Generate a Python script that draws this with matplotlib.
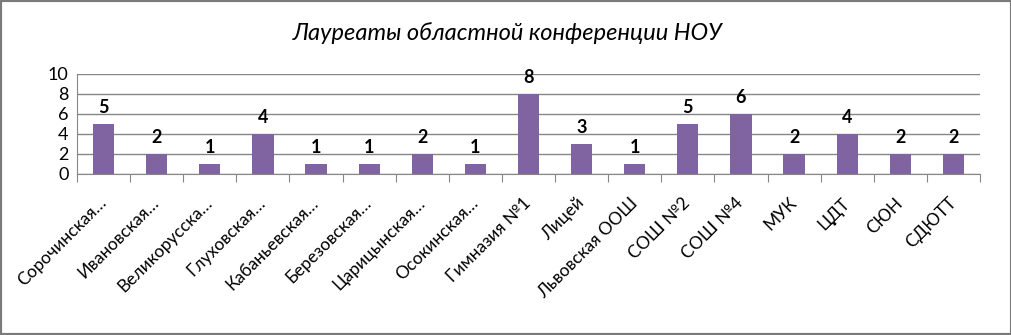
import matplotlib
matplotlib.use("Agg")
import matplotlib.pyplot as plt
from matplotlib.patches import Rectangle

plt.rcParams['font.family'] = ['Lato', 'DejaVu Sans']

categories = ["Сорочинская…", "Ивановская…", "Великорусска…", "Глуховская…",
              "Кабаньевская…", "Березовская…", "Царицынская…", "Осокинская…",
              "Гимназия №1", "Лицей", "Львовская ООШ", "СОШ №2", "СОШ №4",
              "МУК", "ЦДТ", "СЮН", "СДЮТТ"]
values = [5, 2, 1, 4, 1, 1, 2, 1, 8, 3, 1, 5, 6, 2, 4, 2, 2]
title = "Лауреаты областной конференции НОУ"

W, H = 1012, 335
fig = plt.figure(figsize=(W / 100, H / 100), dpi=100)
ax = fig.add_axes([77 / W, (H - 174) / H, (980 - 77) / W, 100 / H])

x = range(len(categories))
bars = ax.bar(x, values, width=0.4, color="#8064A2", zorder=3)
for xi, v in zip(x, values):
    ax.annotate(str(v), (xi, v), xytext=(0, 6), textcoords="offset points",
                ha="center", va="bottom", fontsize=13, fontweight="bold")

ax.set_xlim(-0.5, len(categories) - 0.5)
ax.set_ylim(0, 10)
ax.set_yticks([0, 2, 4, 6, 8, 10])
ax.yaxis.grid(True, color="#868686", linewidth=1, zorder=0)
ax.tick_params(axis="y", length=0, labelsize=13, pad=6)

ax.set_xticks([i - 0.5 for i in range(len(categories) + 1)], minor=False)
ax.set_xticklabels([])
ax.tick_params(axis="x", which="major", length=6, color="#868686", direction="out")
ax.set_xticks(list(x), minor=True)
ax.set_xticklabels(categories, minor=True, rotation=45, ha="right", va="center",
                   rotation_mode="anchor", fontsize=12.5)
ax.tick_params(axis="x", which="minor", length=0, pad=19)

for s in ["top", "right"]:
    ax.spines[s].set_visible(False)
for s in ["left", "bottom"]:
    ax.spines[s].set_color("#868686")

fig.text(508 / W, 1 - 33 / H, title, ha="center", va="center",
         fontsize=17, fontstyle="italic")

fig.patches.append(Rectangle((0, 0), 1, 1, transform=fig.transFigure,
                             fill=False, edgecolor="#7a7a7a", linewidth=3))

fig.savefig("out.png", dpi=100)
